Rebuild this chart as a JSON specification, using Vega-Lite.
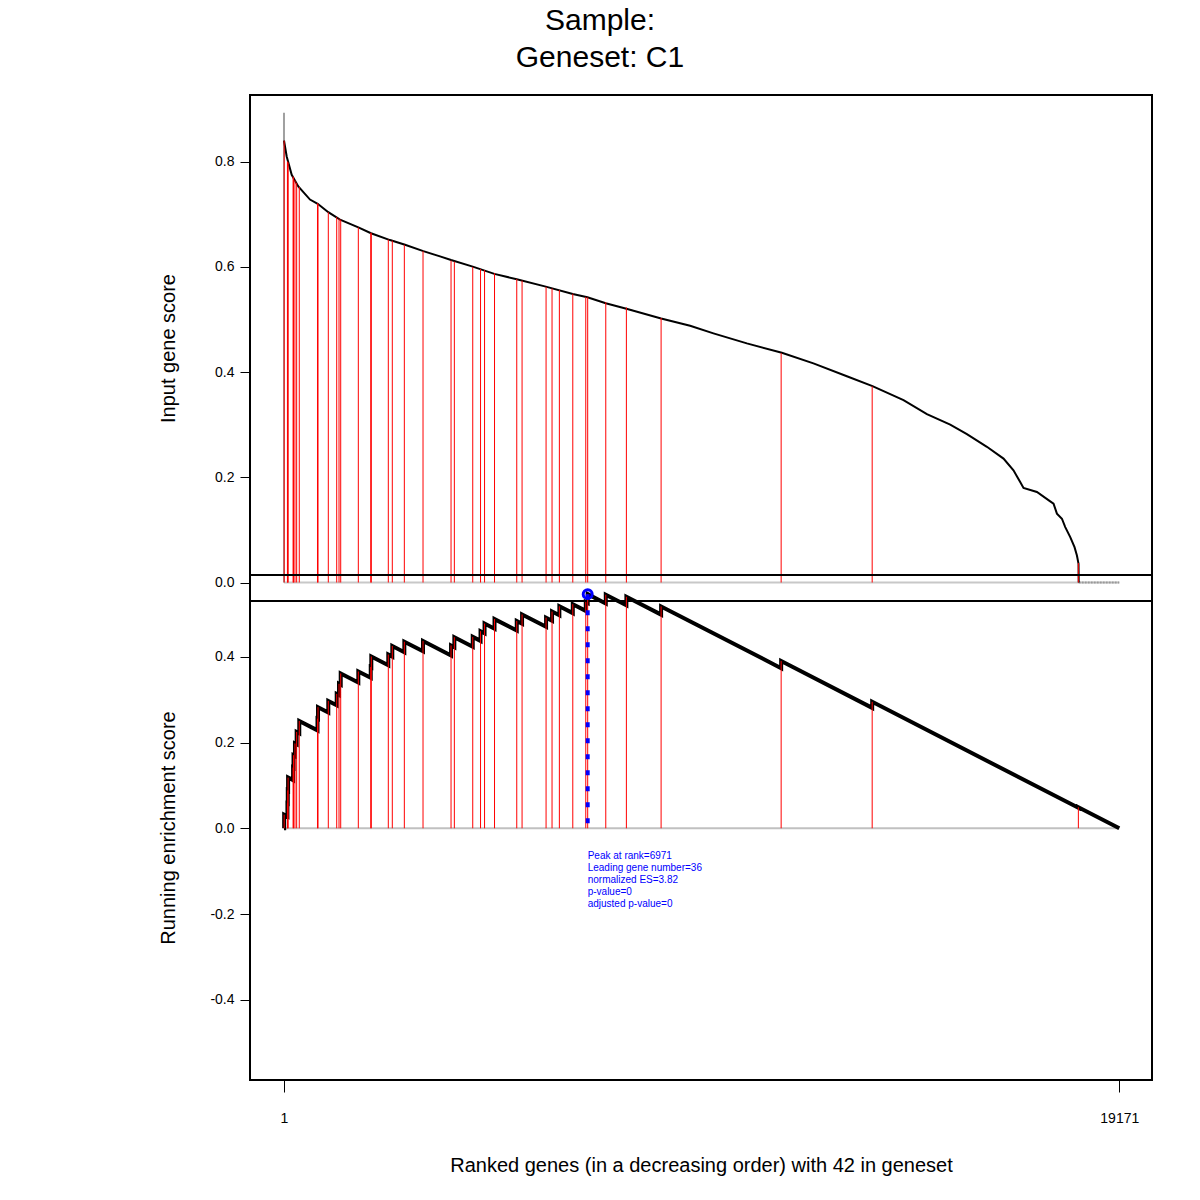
{
  "$schema": "https://vega.github.io/schema/vega-lite/v6.json",
  "width": 902,
  "height": 985,
  "autosize": {"type": "none"},
  "padding": {"left": 250, "top": 95, "right": 48, "bottom": 120},
  "config": {
    "font": "Liberation Sans",
    "view": {"stroke": "black", "strokeWidth": 2},
    "axis": {"labelColor": "black", "titleColor": "black", "tickColor": "black", "grid": false, "domain": false}
  },
  "title": {
    "text": ["Sample: ", "Geneset: C1"],
    "anchor": "middle",
    "frame": "group",
    "fontSize": 30,
    "fontWeight": "normal",
    "font": "Liberation Sans",
    "color": "black",
    "lineHeight": 37,
    "dx": -101,
    "offset": 22
  },
  "datasets": {
    "genes": [
      {"rank": 5, "score": 0.840, "es": 0.0317},
      {"rank": 80, "score": 0.800, "es": 0.0582},
      {"rank": 88, "score": 0.800, "es": 0.0883},
      {"rank": 95, "score": 0.798, "es": 0.1183},
      {"rank": 210, "score": 0.772, "es": 0.1416},
      {"rank": 220, "score": 0.770, "es": 0.1704},
      {"rank": 253, "score": 0.765, "es": 0.1978},
      {"rank": 292, "score": 0.760, "es": 0.2247},
      {"rank": 352, "score": 0.752, "es": 0.2502},
      {"rank": 770, "score": 0.721, "es": 0.2557},
      {"rank": 782, "score": 0.720, "es": 0.2825},
      {"rank": 1018, "score": 0.704, "es": 0.2970},
      {"rank": 1211, "score": 0.695, "es": 0.3133},
      {"rank": 1264, "score": 0.692, "es": 0.3369},
      {"rank": 1303, "score": 0.690, "es": 0.3611},
      {"rank": 1707, "score": 0.675, "es": 0.3657},
      {"rank": 1992, "score": 0.665, "es": 0.3761},
      {"rank": 2005, "score": 0.664, "es": 0.4007},
      {"rank": 2395, "score": 0.652, "es": 0.4052},
      {"rank": 2487, "score": 0.650, "es": 0.4251},
      {"rank": 2763, "score": 0.642, "es": 0.4351},
      {"rank": 3192, "score": 0.630, "es": 0.4367},
      {"rank": 3835, "score": 0.612, "es": 0.4264},
      {"rank": 3911, "score": 0.610, "es": 0.4456},
      {"rank": 4333, "score": 0.600, "es": 0.4464},
      {"rank": 4512, "score": 0.596, "es": 0.4597},
      {"rank": 4604, "score": 0.594, "es": 0.4775},
      {"rank": 4833, "score": 0.588, "es": 0.4879},
      {"rank": 5343, "score": 0.577, "es": 0.4833},
      {"rank": 5465, "score": 0.574, "es": 0.4987},
      {"rank": 6016, "score": 0.562, "es": 0.4913},
      {"rank": 6153, "score": 0.559, "es": 0.5055},
      {"rank": 6321, "score": 0.556, "es": 0.5178},
      {"rank": 6629, "score": 0.549, "es": 0.5227},
      {"rank": 6927, "score": 0.543, "es": 0.5278},
      {"rank": 6971, "score": 0.542, "es": 0.5461},
      {"rank": 7386, "score": 0.533, "es": 0.5447},
      {"rank": 7859, "score": 0.523, "es": 0.5399},
      {"rank": 8656, "score": 0.503, "es": 0.5174},
      {"rank": 11411, "score": 0.436, "es": 0.3900},
      {"rank": 13500, "score": 0.373, "es": 0.2950},
      {"rank": 18232, "score": 0.037, "es": 0.0491}
    ],
    "curve": [
      {"rank": 2, "score": 0.840}, {"rank": 63, "score": 0.810}, {"rank": 178, "score": 0.775},
      {"rank": 329, "score": 0.753}, {"rank": 598, "score": 0.728}, {"rank": 775, "score": 0.720},
      {"rank": 1018, "score": 0.704}, {"rank": 1287, "score": 0.690}, {"rank": 1707, "score": 0.675},
      {"rank": 1998, "score": 0.664}, {"rank": 2434, "score": 0.651}, {"rank": 2779, "score": 0.642},
      {"rank": 3199, "score": 0.630}, {"rank": 3582, "score": 0.620}, {"rank": 3835, "score": 0.613},
      {"rank": 4333, "score": 0.6006}, {"rank": 4829, "score": 0.5867}, {"rank": 5343, "score": 0.5765},
      {"rank": 6009, "score": 0.5625}, {"rank": 6629, "score": 0.5486}, {"rank": 6964, "score": 0.5422},
      {"rank": 7386, "score": 0.531}, {"rank": 7860, "score": 0.5206}, {"rank": 8656, "score": 0.502},
      {"rank": 9322, "score": 0.488}, {"rank": 9857, "score": 0.4737}, {"rank": 10624, "score": 0.4546},
      {"rank": 11427, "score": 0.4368}, {"rank": 12152, "score": 0.4165}, {"rank": 12919, "score": 0.392},
      {"rank": 13507, "score": 0.3733}, {"rank": 14219, "score": 0.3467}, {"rank": 14756, "score": 0.320},
      {"rank": 15291, "score": 0.300}, {"rank": 15674, "score": 0.282}, {"rank": 16133, "score": 0.258},
      {"rank": 16514, "score": 0.2356}, {"rank": 16743, "score": 0.2133}, {"rank": 16897, "score": 0.191},
      {"rank": 16973, "score": 0.1797}, {"rank": 17281, "score": 0.172}, {"rank": 17586, "score": 0.1543},
      {"rank": 17662, "score": 0.15}, {"rank": 17740, "score": 0.131}, {"rank": 17855, "score": 0.1213},
      {"rank": 17931, "score": 0.1053}, {"rank": 18046, "score": 0.0863}, {"rank": 18144, "score": 0.0672},
      {"rank": 18199, "score": 0.0514}, {"rank": 18236, "score": 0.0356}, {"rank": 18240, "score": 0.0}
    ],
    "es": [
      {"i": 0, "rank": 1, "es": 0},
      {"i": 1, "rank": 5, "es": 0.0}, {"i": 2, "rank": 5, "es": 0.0317},
      {"i": 3, "rank": 80, "es": 0.0278}, {"i": 4, "rank": 80, "es": 0.0582},
      {"i": 5, "rank": 88, "es": 0.0579}, {"i": 6, "rank": 88, "es": 0.0883},
      {"i": 7, "rank": 95, "es": 0.0879}, {"i": 8, "rank": 95, "es": 0.1183},
      {"i": 9, "rank": 210, "es": 0.1123}, {"i": 10, "rank": 210, "es": 0.1416},
      {"i": 11, "rank": 220, "es": 0.1411}, {"i": 12, "rank": 220, "es": 0.1704},
      {"i": 13, "rank": 253, "es": 0.1687}, {"i": 14, "rank": 253, "es": 0.1978},
      {"i": 15, "rank": 292, "es": 0.1958}, {"i": 16, "rank": 292, "es": 0.2247},
      {"i": 17, "rank": 352, "es": 0.2216}, {"i": 18, "rank": 352, "es": 0.2502},
      {"i": 19, "rank": 770, "es": 0.2284}, {"i": 20, "rank": 770, "es": 0.2557},
      {"i": 21, "rank": 782, "es": 0.2552}, {"i": 22, "rank": 782, "es": 0.2825},
      {"i": 23, "rank": 1018, "es": 0.2702}, {"i": 24, "rank": 1018, "es": 0.2970},
      {"i": 25, "rank": 1211, "es": 0.2869}, {"i": 26, "rank": 1211, "es": 0.3133},
      {"i": 27, "rank": 1264, "es": 0.3106}, {"i": 28, "rank": 1264, "es": 0.3369},
      {"i": 29, "rank": 1303, "es": 0.3349}, {"i": 30, "rank": 1303, "es": 0.3611},
      {"i": 31, "rank": 1707, "es": 0.3401}, {"i": 32, "rank": 1707, "es": 0.3657},
      {"i": 33, "rank": 1992, "es": 0.3509}, {"i": 34, "rank": 1992, "es": 0.3761},
      {"i": 35, "rank": 2005, "es": 0.3755}, {"i": 36, "rank": 2005, "es": 0.4007},
      {"i": 37, "rank": 2395, "es": 0.3804}, {"i": 38, "rank": 2395, "es": 0.4052},
      {"i": 39, "rank": 2487, "es": 0.4004}, {"i": 40, "rank": 2487, "es": 0.4251},
      {"i": 41, "rank": 2763, "es": 0.4107}, {"i": 42, "rank": 2763, "es": 0.4351},
      {"i": 43, "rank": 3192, "es": 0.4127}, {"i": 44, "rank": 3192, "es": 0.4367},
      {"i": 45, "rank": 3835, "es": 0.4031}, {"i": 46, "rank": 3835, "es": 0.4264},
      {"i": 47, "rank": 3911, "es": 0.4224}, {"i": 48, "rank": 3911, "es": 0.4456},
      {"i": 49, "rank": 4333, "es": 0.4236}, {"i": 50, "rank": 4333, "es": 0.4464},
      {"i": 51, "rank": 4512, "es": 0.4371}, {"i": 52, "rank": 4512, "es": 0.4597},
      {"i": 53, "rank": 4604, "es": 0.4550}, {"i": 54, "rank": 4604, "es": 0.4775},
      {"i": 55, "rank": 4833, "es": 0.4656}, {"i": 56, "rank": 4833, "es": 0.4879},
      {"i": 57, "rank": 5343, "es": 0.4613}, {"i": 58, "rank": 5343, "es": 0.4833},
      {"i": 59, "rank": 5465, "es": 0.4769}, {"i": 60, "rank": 5465, "es": 0.4987},
      {"i": 61, "rank": 6016, "es": 0.4700}, {"i": 62, "rank": 6016, "es": 0.4913},
      {"i": 63, "rank": 6153, "es": 0.4842}, {"i": 64, "rank": 6153, "es": 0.5055},
      {"i": 65, "rank": 6321, "es": 0.4967}, {"i": 66, "rank": 6321, "es": 0.5178},
      {"i": 67, "rank": 6629, "es": 0.5018}, {"i": 68, "rank": 6629, "es": 0.5227},
      {"i": 69, "rank": 6927, "es": 0.5071}, {"i": 70, "rank": 6927, "es": 0.5278},
      {"i": 71, "rank": 6971, "es": 0.5255}, {"i": 72, "rank": 6971, "es": 0.5461},
      {"i": 73, "rank": 7386, "es": 0.5245}, {"i": 74, "rank": 7386, "es": 0.5447},
      {"i": 75, "rank": 7859, "es": 0.5200}, {"i": 76, "rank": 7859, "es": 0.5399},
      {"i": 77, "rank": 8656, "es": 0.4983}, {"i": 78, "rank": 8656, "es": 0.5174},
      {"i": 79, "rank": 11411, "es": 0.3734}, {"i": 80, "rank": 11411, "es": 0.3900},
      {"i": 81, "rank": 13500, "es": 0.2808}, {"i": 82, "rank": 13500, "es": 0.2950},
      {"i": 83, "rank": 18232, "es": 0.0477}, {"i": 84, "rank": 18232, "es": 0.0491},
      {"i": 85, "rank": 19171, "es": 0.0}
    ],
    "peak": [{"rank": 6971, "es": 0.5461}],
    "first": [{"rank": 1, "score": 0.893}],
    "blank": [{}]
  },
  "layer": [
    {
      "layer": [
        {
          "data": {"name": "blank"},
          "mark": {"type": "rule", "color": "#c8c8c8", "strokeWidth": 2},
          "encoding": {
            "x": {"datum": 1, "type": "quantitative", "scale": {"domain": [-779, 19922], "nice": false, "zero": false},
              "axis": {"orient": "bottom", "values": [1, 19171], "format": "d", "labelFlush": false, "tickSize": 12, "tickWidth": 1, "labelFontSize": 14, "labelPadding": 19, "title": "Ranked genes (in a decreasing order) with 42 in geneset", "titleFontSize": 20, "titleFontWeight": "normal", "titleY": 85, "titleBaseline": "middle"}},
            "x2": {"datum": 19171},
            "y": {"datum": 0, "type": "quantitative", "scale": {"domain": [-0.9458, 0.9268], "nice": false, "zero": false},
              "axis": {"orient": "left", "values": [0, 0.2, 0.4, 0.6, 0.8], "labelExpr": "format(datum.value, '.1f')", "tickSize": 10, "tickWidth": 1, "labelFontSize": 14, "labelPadding": 6, "labelAngle": 0, "title": "Input gene score", "titleFontSize": 20, "titleFontWeight": "normal", "titleAngle": 270, "titleX": -82, "titleY": 253, "titleBaseline": "middle", "titleAlign": "center"}}
          }
        },
        {
          "data": {"name": "blank"},
          "mark": {"type": "rule", "color": "#999999", "strokeWidth": 2, "strokeDash": [2, 1]},
          "encoding": {
            "x": {"datum": 18240, "type": "quantitative", "scale": {"domain": [-779, 19922], "nice": false, "zero": false},
              "axis": {"orient": "bottom", "values": [1, 19171], "format": "d", "labelFlush": false, "tickSize": 12, "tickWidth": 1, "labelFontSize": 14, "labelPadding": 19, "title": "Ranked genes (in a decreasing order) with 42 in geneset", "titleFontSize": 20, "titleFontWeight": "normal", "titleY": 85, "titleBaseline": "middle"}},
            "x2": {"datum": 19171},
            "y": {"datum": 0, "type": "quantitative", "scale": {"domain": [-0.9458, 0.9268], "nice": false, "zero": false},
              "axis": {"orient": "left", "values": [0, 0.2, 0.4, 0.6, 0.8], "labelExpr": "format(datum.value, '.1f')", "tickSize": 10, "tickWidth": 1, "labelFontSize": 14, "labelPadding": 6, "labelAngle": 0, "title": "Input gene score", "titleFontSize": 20, "titleFontWeight": "normal", "titleAngle": 270, "titleX": -82, "titleY": 253, "titleBaseline": "middle", "titleAlign": "center"}}
          }
        },
        {
          "data": {"name": "first"},
          "mark": {"type": "rule", "color": "#a0a0a0", "strokeWidth": 2},
          "encoding": {
            "x": {"field": "rank", "type": "quantitative", "scale": {"domain": [-779, 19922], "nice": false, "zero": false},
              "axis": {"orient": "bottom", "values": [1, 19171], "format": "d", "labelFlush": false, "tickSize": 12, "tickWidth": 1, "labelFontSize": 14, "labelPadding": 19, "title": "Ranked genes (in a decreasing order) with 42 in geneset", "titleFontSize": 20, "titleFontWeight": "normal", "titleY": 85, "titleBaseline": "middle"}},
            "y": {"field": "score", "type": "quantitative", "scale": {"domain": [-0.9458, 0.9268], "nice": false, "zero": false},
              "axis": {"orient": "left", "values": [0, 0.2, 0.4, 0.6, 0.8], "labelExpr": "format(datum.value, '.1f')", "tickSize": 10, "tickWidth": 1, "labelFontSize": 14, "labelPadding": 6, "labelAngle": 0, "title": "Input gene score", "titleFontSize": 20, "titleFontWeight": "normal", "titleAngle": 270, "titleX": -82, "titleY": 253, "titleBaseline": "middle", "titleAlign": "center"}},
            "y2": {"datum": 0}
          }
        },
        {
          "data": {"name": "curve"},
          "mark": {"type": "line", "color": "black", "strokeWidth": 2},
          "encoding": {
            "x": {"field": "rank", "type": "quantitative", "scale": {"domain": [-779, 19922], "nice": false, "zero": false},
              "axis": {"orient": "bottom", "values": [1, 19171], "format": "d", "labelFlush": false, "tickSize": 12, "tickWidth": 1, "labelFontSize": 14, "labelPadding": 19, "title": "Ranked genes (in a decreasing order) with 42 in geneset", "titleFontSize": 20, "titleFontWeight": "normal", "titleY": 85, "titleBaseline": "middle"}},
            "y": {"field": "score", "type": "quantitative", "scale": {"domain": [-0.9458, 0.9268], "nice": false, "zero": false},
              "axis": {"orient": "left", "values": [0, 0.2, 0.4, 0.6, 0.8], "labelExpr": "format(datum.value, '.1f')", "tickSize": 10, "tickWidth": 1, "labelFontSize": 14, "labelPadding": 6, "labelAngle": 0, "title": "Input gene score", "titleFontSize": 20, "titleFontWeight": "normal", "titleAngle": 270, "titleX": -82, "titleY": 253, "titleBaseline": "middle", "titleAlign": "center"}}
          }
        },
        {
          "data": {"name": "genes"},
          "mark": {"type": "rule", "color": "#ff0000", "strokeWidth": 1},
          "encoding": {
            "x": {"field": "rank", "type": "quantitative", "scale": {"domain": [-779, 19922], "nice": false, "zero": false},
              "axis": {"orient": "bottom", "values": [1, 19171], "format": "d", "labelFlush": false, "tickSize": 12, "tickWidth": 1, "labelFontSize": 14, "labelPadding": 19, "title": "Ranked genes (in a decreasing order) with 42 in geneset", "titleFontSize": 20, "titleFontWeight": "normal", "titleY": 85, "titleBaseline": "middle"}},
            "y": {"field": "score", "type": "quantitative", "scale": {"domain": [-0.9458, 0.9268], "nice": false, "zero": false},
              "axis": {"orient": "left", "values": [0, 0.2, 0.4, 0.6, 0.8], "labelExpr": "format(datum.value, '.1f')", "tickSize": 10, "tickWidth": 1, "labelFontSize": 14, "labelPadding": 6, "labelAngle": 0, "title": "Input gene score", "titleFontSize": 20, "titleFontWeight": "normal", "titleAngle": 270, "titleX": -82, "titleY": 253, "titleBaseline": "middle", "titleAlign": "center"}},
            "y2": {"datum": 0}
          }
        },
        {
          "data": {"name": "blank"},
          "mark": {"type": "rule", "color": "black", "strokeWidth": 2},
          "encoding": {
            "y": {"datum": -0.0352, "type": "quantitative", "scale": {"domain": [-0.9458, 0.9268], "nice": false, "zero": false},
              "axis": {"orient": "left", "values": [0, 0.2, 0.4, 0.6, 0.8], "labelExpr": "format(datum.value, '.1f')", "tickSize": 10, "tickWidth": 1, "labelFontSize": 14, "labelPadding": 6, "labelAngle": 0, "title": "Input gene score", "titleFontSize": 20, "titleFontWeight": "normal", "titleAngle": 270, "titleX": -82, "titleY": 253, "titleBaseline": "middle", "titleAlign": "center"}}
          }
        }
      ]
    },
    {
      "layer": [
        {
          "data": {"name": "blank"},
          "mark": {"type": "rule", "color": "#c0c0c0", "strokeWidth": 2},
          "encoding": {
            "x": {"datum": 1, "type": "quantitative", "scale": {"domain": [-779, 19922], "nice": false, "zero": false},
              "axis": {"orient": "bottom", "values": [1, 19171], "format": "d", "labelFlush": false, "tickSize": 12, "tickWidth": 1, "labelFontSize": 14, "labelPadding": 19, "title": "Ranked genes (in a decreasing order) with 42 in geneset", "titleFontSize": 20, "titleFontWeight": "normal", "titleY": 85, "titleBaseline": "middle"}},
            "x2": {"datum": 19171},
            "y": {"datum": 0, "type": "quantitative", "scale": {"domain": [-0.5871, 1.7103], "nice": false, "zero": false},
              "axis": {"orient": "left", "values": [-0.4, -0.2, 0, 0.2, 0.4], "labelExpr": "datum.value < 0 ? '-' + format(-datum.value, '.1f') : format(datum.value, '.1f')", "tickSize": 10, "tickWidth": 1, "labelFontSize": 14, "labelPadding": 6, "labelAngle": 0, "title": "Running enrichment score", "titleFontSize": 20, "titleFontWeight": "normal", "titleAngle": 270, "titleX": -82, "titleY": 732.5, "titleBaseline": "middle", "titleAlign": "center"}}
          }
        },
        {
          "data": {"name": "es"},
          "mark": {"type": "line", "color": "black", "strokeWidth": 4},
          "encoding": {
            "x": {"field": "rank", "type": "quantitative", "scale": {"domain": [-779, 19922], "nice": false, "zero": false},
              "axis": {"orient": "bottom", "values": [1, 19171], "format": "d", "labelFlush": false, "tickSize": 12, "tickWidth": 1, "labelFontSize": 14, "labelPadding": 19, "title": "Ranked genes (in a decreasing order) with 42 in geneset", "titleFontSize": 20, "titleFontWeight": "normal", "titleY": 85, "titleBaseline": "middle"}},
            "y": {"field": "es", "type": "quantitative", "scale": {"domain": [-0.5871, 1.7103], "nice": false, "zero": false},
              "axis": {"orient": "left", "values": [-0.4, -0.2, 0, 0.2, 0.4], "labelExpr": "datum.value < 0 ? '-' + format(-datum.value, '.1f') : format(datum.value, '.1f')", "tickSize": 10, "tickWidth": 1, "labelFontSize": 14, "labelPadding": 6, "labelAngle": 0, "title": "Running enrichment score", "titleFontSize": 20, "titleFontWeight": "normal", "titleAngle": 270, "titleX": -82, "titleY": 732.5, "titleBaseline": "middle", "titleAlign": "center"}},
            "order": {"field": "i", "type": "quantitative"}
          }
        },
        {
          "data": {"name": "genes"},
          "mark": {"type": "rule", "color": "#ff0000", "strokeWidth": 1},
          "encoding": {
            "x": {"field": "rank", "type": "quantitative", "scale": {"domain": [-779, 19922], "nice": false, "zero": false},
              "axis": {"orient": "bottom", "values": [1, 19171], "format": "d", "labelFlush": false, "tickSize": 12, "tickWidth": 1, "labelFontSize": 14, "labelPadding": 19, "title": "Ranked genes (in a decreasing order) with 42 in geneset", "titleFontSize": 20, "titleFontWeight": "normal", "titleY": 85, "titleBaseline": "middle"}},
            "y": {"field": "es", "type": "quantitative", "scale": {"domain": [-0.5871, 1.7103], "nice": false, "zero": false},
              "axis": {"orient": "left", "values": [-0.4, -0.2, 0, 0.2, 0.4], "labelExpr": "datum.value < 0 ? '-' + format(-datum.value, '.1f') : format(datum.value, '.1f')", "tickSize": 10, "tickWidth": 1, "labelFontSize": 14, "labelPadding": 6, "labelAngle": 0, "title": "Running enrichment score", "titleFontSize": 20, "titleFontWeight": "normal", "titleAngle": 270, "titleX": -82, "titleY": 732.5, "titleBaseline": "middle", "titleAlign": "center"}},
            "y2": {"datum": 0}
          }
        },
        {
          "data": {"name": "peak"},
          "mark": {"type": "rule", "color": "#0000ff", "strokeWidth": 4, "strokeDash": [5, 11]},
          "encoding": {
            "x": {"field": "rank", "type": "quantitative", "scale": {"domain": [-779, 19922], "nice": false, "zero": false},
              "axis": {"orient": "bottom", "values": [1, 19171], "format": "d", "labelFlush": false, "tickSize": 12, "tickWidth": 1, "labelFontSize": 14, "labelPadding": 19, "title": "Ranked genes (in a decreasing order) with 42 in geneset", "titleFontSize": 20, "titleFontWeight": "normal", "titleY": 85, "titleBaseline": "middle"}},
            "y": {"field": "es", "type": "quantitative", "scale": {"domain": [-0.5871, 1.7103], "nice": false, "zero": false},
              "axis": {"orient": "left", "values": [-0.4, -0.2, 0, 0.2, 0.4], "labelExpr": "datum.value < 0 ? '-' + format(-datum.value, '.1f') : format(datum.value, '.1f')", "tickSize": 10, "tickWidth": 1, "labelFontSize": 14, "labelPadding": 6, "labelAngle": 0, "title": "Running enrichment score", "titleFontSize": 20, "titleFontWeight": "normal", "titleAngle": 270, "titleX": -82, "titleY": 732.5, "titleBaseline": "middle", "titleAlign": "center"}},
            "y2": {"datum": 0}
          }
        },
        {
          "data": {"name": "peak"},
          "mark": {"type": "point", "filled": false, "color": "#0000ff", "strokeWidth": 3, "size": 80, "opacity": 1},
          "encoding": {
            "x": {"field": "rank", "type": "quantitative", "scale": {"domain": [-779, 19922], "nice": false, "zero": false},
              "axis": {"orient": "bottom", "values": [1, 19171], "format": "d", "labelFlush": false, "tickSize": 12, "tickWidth": 1, "labelFontSize": 14, "labelPadding": 19, "title": "Ranked genes (in a decreasing order) with 42 in geneset", "titleFontSize": 20, "titleFontWeight": "normal", "titleY": 85, "titleBaseline": "middle"}},
            "y": {"field": "es", "type": "quantitative", "scale": {"domain": [-0.5871, 1.7103], "nice": false, "zero": false},
              "axis": {"orient": "left", "values": [-0.4, -0.2, 0, 0.2, 0.4], "labelExpr": "datum.value < 0 ? '-' + format(-datum.value, '.1f') : format(datum.value, '.1f')", "tickSize": 10, "tickWidth": 1, "labelFontSize": 14, "labelPadding": 6, "labelAngle": 0, "title": "Running enrichment score", "titleFontSize": 20, "titleFontWeight": "normal", "titleAngle": 270, "titleX": -82, "titleY": 732.5, "titleBaseline": "middle", "titleAlign": "center"}}
          }
        },
        {
          "data": {"name": "peak"},
          "mark": {"type": "text", "color": "#0000ff", "fontSize": 10, "align": "left", "baseline": "alphabetic", "lineHeight": 12},
          "encoding": {
            "x": {"field": "rank", "type": "quantitative", "scale": {"domain": [-779, 19922], "nice": false, "zero": false},
              "axis": {"orient": "bottom", "values": [1, 19171], "format": "d", "labelFlush": false, "tickSize": 12, "tickWidth": 1, "labelFontSize": 14, "labelPadding": 19, "title": "Ranked genes (in a decreasing order) with 42 in geneset", "titleFontSize": 20, "titleFontWeight": "normal", "titleY": 85, "titleBaseline": "middle"}},
            "y": {"datum": -0.0723, "type": "quantitative", "scale": {"domain": [-0.5871, 1.7103], "nice": false, "zero": false},
              "axis": {"orient": "left", "values": [-0.4, -0.2, 0, 0.2, 0.4], "labelExpr": "datum.value < 0 ? '-' + format(-datum.value, '.1f') : format(datum.value, '.1f')", "tickSize": 10, "tickWidth": 1, "labelFontSize": 14, "labelPadding": 6, "labelAngle": 0, "title": "Running enrichment score", "titleFontSize": 20, "titleFontWeight": "normal", "titleAngle": 270, "titleX": -82, "titleY": 732.5, "titleBaseline": "middle", "titleAlign": "center"}},
            "text": {"value": ["Peak at rank=6971", "Leading gene number=36", "normalized ES=3.82", "p-value=0", "adjusted p-value=0"]}
          }
        },
        {
          "data": {"name": "blank"},
          "mark": {"type": "rule", "color": "black", "strokeWidth": 2},
          "encoding": {
            "y": {"datum": 0.5908, "type": "quantitative", "scale": {"domain": [-0.5871, 1.7103], "nice": false, "zero": false},
              "axis": {"orient": "left", "values": [-0.4, -0.2, 0, 0.2, 0.4], "labelExpr": "datum.value < 0 ? '-' + format(-datum.value, '.1f') : format(datum.value, '.1f')", "tickSize": 10, "tickWidth": 1, "labelFontSize": 14, "labelPadding": 6, "labelAngle": 0, "title": "Running enrichment score", "titleFontSize": 20, "titleFontWeight": "normal", "titleAngle": 270, "titleX": -82, "titleY": 732.5, "titleBaseline": "middle", "titleAlign": "center"}}
          }
        }
      ]
    }
  ],
  "resolve": {"scale": {"y": "independent"}, "axis": {"y": "independent"}}
}
